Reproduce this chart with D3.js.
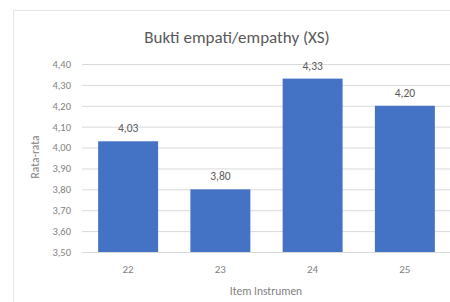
<!DOCTYPE html>
<html><head><meta charset="utf-8">
<script src="https://cdn.jsdelivr.net/npm/d3@7"></script>
<style>body{margin:0;background:#fff}svg{display:block}text{font-family:Calibri,"Liberation Sans","Open Sans",sans-serif}</style>
</head><body>
<script>
const categories = ["22","23","24","25"];
const values = [4.03, 3.80, 4.33, 4.20];
const valueLabels = ["4,03","3,80","4,33","4,20"];
const yTicks = [3.5,3.6,3.7,3.8,3.9,4.0,4.1,4.2,4.3,4.4];
const title = "Bukti empati/empathy (XS)";
const xTitle = "Item Instrumen";
const yTitle = "Rata-rata";

const W=450,H=302;
const svg=d3.select("body").append("svg").attr("width",W).attr("height",H);
svg.append("rect").attr("x",13.5).attr("y",10.5).attr("width",460).attr("height",320)
  .attr("fill","#fff").attr("stroke","#e4e4e4");
const m={l:82,r:451,t:64,b:252};
const x=d3.scaleBand().domain(categories).range([m.l,m.r]).paddingInner(0.35).paddingOuter(0.175);
const y=d3.scaleLinear().domain([3.5,4.4]).range([m.b,m.t]);
const fmt=d=>d3.format(".2f")(d).replace(".",",");
const yAxis=d3.axisLeft(y).tickValues(yTicks).tickSize(-(m.r-m.l)).tickFormat(fmt).tickPadding(11);
const gy=svg.append("g").attr("transform",`translate(${m.l},0)`).call(yAxis);
gy.select(".domain").remove();
gy.selectAll("line").attr("stroke","#d9d9d9");
gy.selectAll("text").attr("fill","#7f7f7f").attr("font-size",10.5);
svg.selectAll(".bar").data(values).enter().append("rect")
  .attr("x",(d,i)=>x(categories[i])).attr("y",d=>y(d))
  .attr("width",x.bandwidth()).attr("height",d=>y(3.5)-y(d)).attr("fill","#4472C4");
svg.selectAll(".vl").data(values).enter().append("text")
  .attr("x",(d,i)=>x(categories[i])+x.bandwidth()/2).attr("y",d=>y(d)-9)
  .attr("text-anchor","middle").attr("font-size",11.5).attr("fill","#595959")
  .text((d,i)=>valueLabels[i]);
const xAxis=d3.axisBottom(x).tickSize(0).tickPadding(13);
const gx=svg.append("g").attr("transform",`translate(0,${m.b})`).call(xAxis);
gx.select(".domain").attr("stroke","#d9d9d9");
gx.selectAll("text").attr("fill","#7f7f7f").attr("font-size",11);
svg.append("text").attr("x",237).attr("y",43).attr("text-anchor","middle")
  .attr("font-size",17).attr("fill","#595959").text(title);
svg.append("text").attr("x",266).attr("y",295).attr("text-anchor","middle")
  .attr("font-size",11.5).attr("fill","#7f7f7f").text(xTitle);
svg.append("text").attr("transform","translate(39,157) rotate(-90)").attr("text-anchor","middle")
  .attr("font-size",11.5).attr("fill","#7f7f7f").text(yTitle);
</script>
</body></html>
